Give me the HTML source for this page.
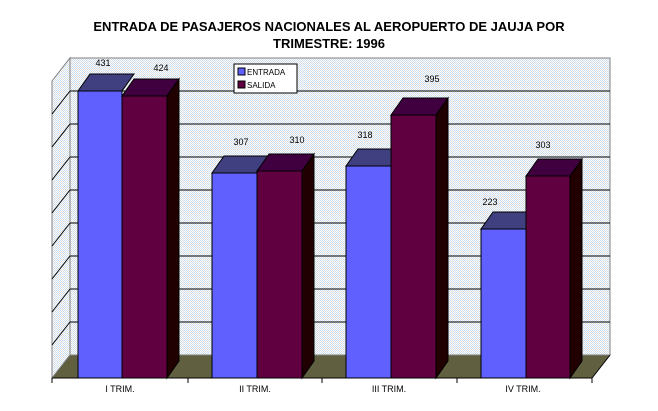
<!DOCTYPE html>
<html><head><meta charset="utf-8"><style>
body{margin:0;background:#fff}
svg text{font-family:"Liberation Sans",Arial,sans-serif}
</style></head><body>
<svg width="658" height="406" viewBox="0 0 658 406" xmlns="http://www.w3.org/2000/svg">
<defs>
<pattern id="dots" width="2" height="2" patternUnits="userSpaceOnUse">
<rect width="2" height="2" fill="#ffffff"/><rect width="1" height="1" fill="#c8e0f8"/><rect x="1" y="1" width="1" height="1" fill="#d8d8d8"/>
</pattern>
</defs>
<rect width="658" height="406" fill="#fff"/>
<text x="329" y="31" font-size="13" font-weight="bold" text-anchor="middle">ENTRADA DE PASAJEROS NACIONALES AL AEROPUERTO DE JAUJA POR</text>
<text x="329" y="48" font-size="13" font-weight="bold" text-anchor="middle">TRIMESTRE: 1996</text>
<rect x="70" y="58" width="540" height="297" fill="url(#dots)" stroke="#808080" stroke-width="1"/>
<polygon points="52,81 70,58 70,355 52,378" fill="url(#dots)" stroke="#808080"/>
<polygon points="52,378 70,355 610,355 592,378" fill="#606040" stroke="#808080"/>
<g stroke="#000" stroke-width="1">
<line x1="70" y1="91" x2="610" y2="91"/><line x1="70" y1="124" x2="610" y2="124"/>
<line x1="70" y1="157" x2="610" y2="157"/><line x1="70" y1="190" x2="610" y2="190"/>
<line x1="70" y1="223" x2="610" y2="223"/><line x1="70" y1="256" x2="610" y2="256"/>
<line x1="70" y1="289" x2="610" y2="289"/><line x1="70" y1="322" x2="610" y2="322"/>
<line x1="52" y1="114" x2="70" y2="91"/><line x1="52" y1="147" x2="70" y2="124"/>
<line x1="52" y1="180" x2="70" y2="157"/><line x1="52" y1="213" x2="70" y2="190"/>
<line x1="52" y1="246" x2="70" y2="223"/><line x1="52" y1="279" x2="70" y2="256"/>
<line x1="52" y1="312" x2="70" y2="289"/><line x1="52" y1="345" x2="70" y2="322"/>
<line x1="52" y1="378" x2="592" y2="378"/>
<line x1="592" y1="378" x2="610" y2="355"/>
<line x1="52" y1="378" x2="52" y2="383"/><line x1="188" y1="378" x2="188" y2="383"/>
<line x1="322" y1="378" x2="322" y2="383"/><line x1="457" y1="378" x2="457" y2="383"/>
<line x1="592" y1="378" x2="592" y2="383"/>
</g>
<g stroke="#000" stroke-width="1">
<polygon points="78,91 90,74 134,74 122,91" fill="#404080"/>
<rect x="78" y="91" width="44" height="287" fill="#6060ff"/>
<polygon points="122,96 134,79 179,79 167,96" fill="#400040"/>
<polygon points="167,96 179,79 179,361 167,378" fill="#200000"/>
<rect x="122" y="96" width="45" height="282" fill="#600040"/>
<polygon points="212,173 224,156 269,156 257,173" fill="#404080"/>
<rect x="212" y="173" width="45" height="205" fill="#6060ff"/>
<polygon points="257,171 269,154 314,154 302,171" fill="#400040"/>
<polygon points="302,171 314,154 314,361 302,378" fill="#200000"/>
<rect x="257" y="171" width="45" height="207" fill="#600040"/>
<polygon points="346,166 358,149 403,149 391,166" fill="#404080"/>
<rect x="346" y="166" width="45" height="212" fill="#6060ff"/>
<polygon points="391,115 403,98 448,98 436,115" fill="#400040"/>
<polygon points="436,115 448,98 448,361 436,378" fill="#200000"/>
<rect x="391" y="115" width="45" height="263" fill="#600040"/>
<polygon points="481,229 493,212 538,212 526,229" fill="#404080"/>
<rect x="481" y="229" width="45" height="149" fill="#6060ff"/>
<polygon points="526,176 538,159 582,159 570,176" fill="#400040"/>
<polygon points="570,176 582,159 582,361 570,378" fill="#200000"/>
<rect x="526" y="176" width="44" height="202" fill="#600040"/>
</g>
<g font-size="9" text-anchor="middle">
<text x="103" y="66">431</text><text x="161" y="71">424</text>
<text x="241" y="145">307</text><text x="297" y="143">310</text>
<text x="365" y="138">318</text><text x="432" y="82">395</text>
<text x="490" y="205">223</text><text x="543" y="148">303</text>
<text x="120" y="392">I TRIM.</text><text x="255" y="392">II TRIM.</text>
<text x="389" y="392">III TRIM.</text><text x="523" y="392">IV TRIM.</text>
</g>
<rect x="234" y="64" width="63" height="29" fill="#fff" stroke="#000"/>
<rect x="238" y="68" width="7" height="7" fill="#6060ff" stroke="#000"/>
<rect x="238" y="81" width="7" height="7" fill="#600040" stroke="#000"/>
<text x="247" y="75" font-size="8">ENTRADA</text>
<text x="247" y="88" font-size="8">SALIDA</text>
</svg>
</body></html>
